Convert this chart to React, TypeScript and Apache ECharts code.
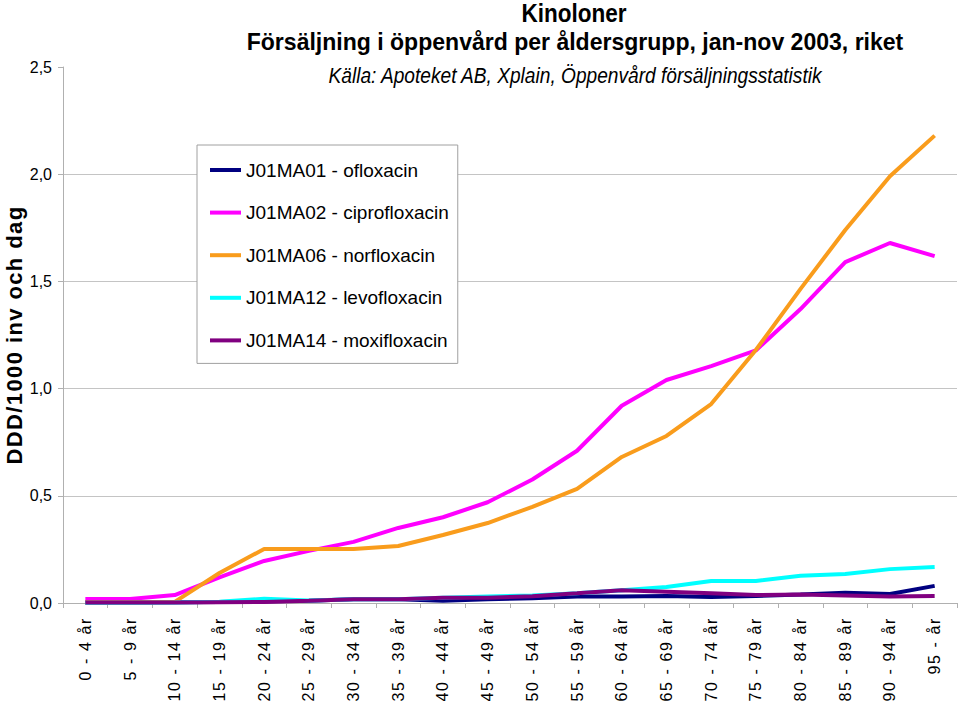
import React, { useEffect, useRef } from "react";
import * as echarts from "echarts";

const categories = [
  "0 - 4 år", "5 - 9 år", "10 - 14 år", "15 - 19 år", "20 - 24 år",
  "25 - 29 år", "30 - 34 år", "35 - 39 år", "40 - 44 år", "45 - 49 år",
  "50 - 54 år", "55 - 59 år", "60 - 64 år", "65 - 69 år", "70 - 74 år",
  "75 - 79 år", "80 - 84 år", "85 - 89 år", "90 - 94 år", "95 - år",
];

const ofloxacin = [0.002, 0.002, 0.003, 0.005, 0.008, 0.010, 0.018, 0.018, 0.010, 0.018, 0.022, 0.030, 0.030, 0.033, 0.028, 0.033, 0.040, 0.048, 0.042, 0.080];
const ciprofloxacin = [0.019, 0.019, 0.037, 0.120, 0.196, 0.243, 0.285, 0.350, 0.400, 0.470, 0.576, 0.710, 0.920, 1.040, 1.105, 1.178, 1.371, 1.590, 1.679, 1.618];
const norfloxacin = [0.003, 0.003, 0.005, 0.140, 0.252, 0.252, 0.252, 0.266, 0.317, 0.373, 0.448, 0.532, 0.681, 0.779, 0.928, 1.180, 1.465, 1.740, 1.990, 2.180];
const levofloxacin = [0.001, 0.001, 0.002, 0.006, 0.020, 0.012, 0.018, 0.018, 0.025, 0.030, 0.035, 0.045, 0.060, 0.075, 0.103, 0.103, 0.127, 0.135, 0.158, 0.168];
const moxifloxacin = [0.002, 0.002, 0.002, 0.004, 0.005, 0.010, 0.018, 0.018, 0.025, 0.025, 0.032, 0.045, 0.060, 0.053, 0.045, 0.037, 0.040, 0.035, 0.030, 0.033];

const seriesNames = [
  "J01MA01 - ofloxacin",
  "J01MA02 - ciprofloxacin",
  "J01MA06 - norfloxacin",
  "J01MA12 - levofloxacin",
  "J01MA14 - moxifloxacin",
];
const seriesData = [ofloxacin, ciprofloxacin, norfloxacin, levofloxacin, moxifloxacin];
const seriesColors = ["#000080", "#FF00FF", "#F99C1C", "#00FFFF", "#800080"];

const titleMain = "Kinoloner";
const titleSub = "Försäljning i öppenvård per åldersgrupp, jan-nov 2003, riket";
const titleSource = "Källa: Apoteket AB, Xplain, Öppenvård försäljningsstatistik";
const yAxisName = "DDD/1000 inv och dag";

const SANS = "'Liberation Sans', Arial, sans-serif";

function applySpacing(root: HTMLElement | null) {
  if (!root) return;
  const texts = root.querySelectorAll("text");
  texts.forEach((t) => {
    const s = t.textContent || "";
    if (s === yAxisName) {
      t.setAttribute("letter-spacing", "1.4");
    } else if (categories.indexOf(s) >= 0) {
      t.setAttribute("letter-spacing", "1.6");
    }
  });
}

export default function App() {
  const ref = useRef<HTMLDivElement>(null);
  useEffect(() => {
    if (!ref.current) return;
    const chart = echarts.init(ref.current, undefined, { renderer: "svg" });
    chart.setOption({
      animation: false,
      backgroundColor: "#ffffff",
      grid: { left: 63, right: 3, top: 67, bottom: 98, containLabel: false, outerBoundsMode: "none" },
      graphic: [
        {
          type: "text", x: 574, y: 1, scaleX: 0.9,
          style: { text: titleMain, font: `bold 25px ${SANS}`, fill: "#000", align: "center", verticalAlign: "top" },
        },
        {
          type: "text", x: 575, y: 30, scaleX: 0.96,
          style: { text: titleSub, font: `bold 24px ${SANS}`, fill: "#000", align: "center", verticalAlign: "top" },
        },
        {
          type: "text", x: 575, y: 64, scaleX: 0.87,
          style: { text: titleSource, font: `italic 22px ${SANS}`, fill: "#000", align: "center", verticalAlign: "top" },
        },
        {
          type: "text", x: 14, y: 335, rotation: Math.PI / 2,
          style: { text: yAxisName, font: `bold 22px ${SANS}`, fill: "#000", align: "center", verticalAlign: "middle" },
        },
      ],
      legend: {
        orient: "vertical",
        left: 197,
        top: 145,
        padding: [15, 9, 13, 13],
        itemWidth: 31,
        itemHeight: 4,
        itemGap: 22.6,
        icon: "rect",
        backgroundColor: "#ffffff",
        borderColor: "#a0a0a0",
        borderWidth: 1,
        borderRadius: 0,
        textStyle: { fontFamily: SANS, fontSize: 19, color: "#000", lineHeight: 20 },
        data: seriesNames,
      },
      xAxis: {
        type: "category",
        data: categories,
        boundaryGap: true,
        axisLine: { lineStyle: { color: "#b0b0b0", width: 1 } },
        axisTick: { show: true, inside: false, length: 5, alignWithLabel: false, lineStyle: { color: "#b0b0b0" } },
        axisLabel: {
          interval: 0,
          rotate: 90,
          margin: 14,
          fontFamily: SANS,
          fontSize: 16,
          color: "#000",
        },
      },
      yAxis: {
        type: "value",
        min: 0,
        max: 2.5,
        interval: 0.5,
        axisLine: { show: true, lineStyle: { color: "#b0b0b0", width: 1 } },
        axisTick: { show: true, length: 5, lineStyle: { color: "#b0b0b0" } },
        splitLine: { show: true, showMaxLine: false, lineStyle: { color: "#c4c4c4", width: 1 } },
        axisLabel: {
          margin: 11,
          fontFamily: SANS,
          fontSize: 16,
          color: "#000",
          formatter: (v: number) => v.toFixed(1).replace(".", ","),
        },
      },
      series: seriesNames.map((name, i) => ({
        name,
        type: "line",
        data: seriesData[i],
        showSymbol: false,
        symbol: "none",
        lineStyle: { color: seriesColors[i], width: 4 },
        itemStyle: { color: seriesColors[i] },
        emphasis: { disabled: true },
      })),
    });
    const el = ref.current;
    applySpacing(el);
    chart.on("finished", () => applySpacing(el));
    return () => chart.dispose();
  }, []);
  return (
    <div
      ref={ref}
      style={{ position: "absolute", left: 0, top: 0, width: 960, height: 701 }}
    />
  );
}
